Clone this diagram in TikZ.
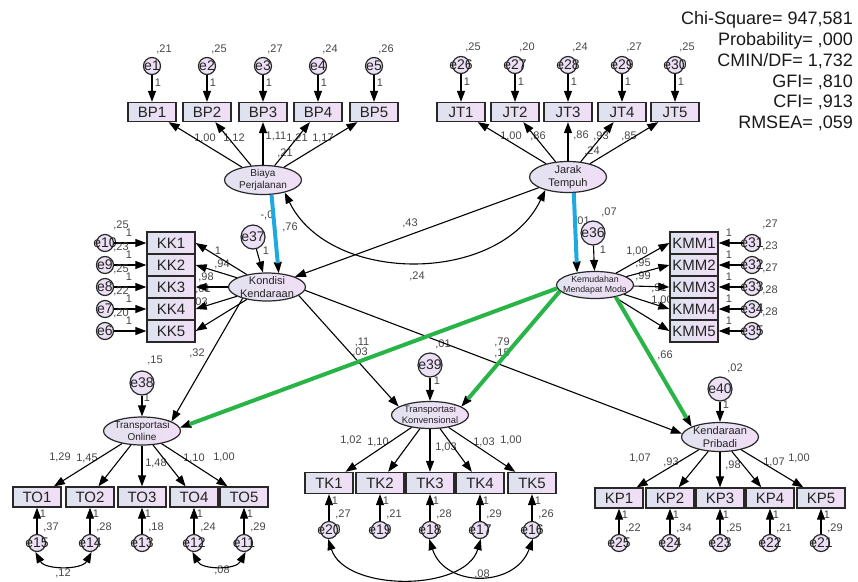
\documentclass[tikz,border=0pt]{standalone}
\usepackage{fontspec}
\setmainfont{Liberation Sans}
\usetikzlibrary{arrows.meta,shapes.geometric}
\definecolor{boxL}{RGB}{222,226,238}
\definecolor{boxR}{RGB}{241,222,246}
\definecolor{latL}{RGB}{226,226,240}
\definecolor{latR}{RGB}{240,222,245}
\definecolor{efill}{RGB}{236,224,245}
\definecolor{bord}{RGB}{40,40,40}
\definecolor{lab}{RGB}{70,70,70}
\definecolor{txt}{RGB}{35,35,35}
\definecolor{stattxt}{RGB}{25,25,25}
\definecolor{hblue}{RGB}{30,170,225}
\definecolor{hgreen}{RGB}{40,180,70}
\tikzset{
 obs/.style={rectangle, draw=bord, line width=1.3pt, left color=boxL, right color=boxR, minimum width=48pt, minimum height=20pt, inner sep=0pt, text=txt, font=\fontsize{15}{15}\selectfont},
 lat/.style={ellipse, draw=bord, line width=1.2pt, left color=latL, right color=latR, minimum width=77pt, minimum height=29pt, inner sep=0pt},
 latlab/.style={align=center, inner sep=0pt, text=txt},
 err/.style={circle, draw=bord, line width=1.2pt, fill=efill, minimum size=17pt, inner sep=0pt},
 bigerr/.style={err, minimum size=24pt},
 elab/.style={font=\fontsize{14}{14}\selectfont, inner sep=0pt, text=txt},
 arr/.style={draw=black, line width=1.1pt, -{Triangle[length=11pt,width=8pt]}},
 cov/.style={draw=black, line width=1.1pt, {Triangle[length=11pt,width=8pt]}-{Triangle[length=11pt,width=8pt]}},
 coef/.style={font=\fontsize{11}{11}\selectfont, text=lab, inner sep=0pt},
 stat/.style={font=\fontsize{18}{18}\selectfont, anchor=east, inner sep=0pt, text=stattxt},
 hiblue/.style={draw=hblue, line width=4pt, shorten >=10pt},
 higreen/.style={draw=hgreen, line width=4pt, shorten >=10pt},
}
\begin{document}
\begin{tikzpicture}[x=1pt,y=-1pt]
\useasboundingbox (0,0) rectangle (858,581);

% fit statistics
\node[stat] (s1) at (853,20) {Chi-Square= 947,581};
\node[stat] (s2) at (853,41) {Probability= ,000};
\node[stat] (s3) at (853,61) {CMIN/DF= 1,732};
\node[stat] (s4) at (853,82) {GFI= ,810};
\node[stat] (s5) at (853,102) {CFI= ,913};
\node[stat] (s6) at (853,123) {RMSEA= ,059};

% path coefficient labels
\node[coef] (c1) at (205,138) {1,00};
\node[coef] (c2) at (234,138) {1,12};
\node[coef] (c3) at (276,136) {1,11};
\node[coef] (c4) at (297,138) {1,21};
\node[coef] (c5) at (323,138) {1,17};
\node[coef] (c6) at (285,153) {,21};
\node[coef] (c7) at (511,136) {1,00};
\node[coef] (c8) at (538,136) {,86};
\node[coef] (c9) at (581,135) {,86};
\node[coef] (c10) at (601,136) {,93};
\node[coef] (c11) at (629,136) {,85};
\node[coef] (c12) at (592,151) {,24};
\node[coef] (c13) at (218,251) {1};
\node[coef] (c14) at (222,264) {,94};
\node[coef] (c15) at (206,277) {,98};
\node[coef] (c16) at (200,289) {1,01};
\node[coef] (c17) at (197,302) {1,03};
\node[coef] (c18) at (637,251) {1,00};
\node[coef] (c19) at (643,263) {,95};
\node[coef] (c20) at (643,276) {,99};
\node[coef] (c21) at (659,288) {,91};
\node[coef] (c22) at (662,300) {1,00};
\node[coef] (c23) at (267,215) {-,0};
\node[coef] (c24) at (290,227) {,76};
\node[coef] (c25) at (266,251) {1};
\node[coef] (c26) at (609,212) {,07};
\node[coef] (c27) at (582,221) {,01};
\node[coef] (c28) at (603,250) {1};
\node[coef] (c29) at (410,223) {,43};
\node[coef] (c30) at (417,276) {,24};
\node[coef] (c31) at (197,353) {,32};
\node[coef] (c32) at (362,342) {,11};
\node[coef] (c33) at (360,352) {,03};
\node[coef] (c34) at (443,344) {,01};
\node[coef] (c35) at (502,342) {,79};
\node[coef] (c36) at (502,353) {,15};
\node[coef] (c37) at (665,355) {,66};
\node[coef] (c38) at (155,360) {,15};
\node[coef] (c39) at (147,398) {1};
\node[coef] (c40) at (437,381) {1};
\node[coef] (c41) at (735,368) {,02};
\node[coef] (c42) at (726,405) {1};
\node[coef] (c43) at (60,457) {1,29};
\node[coef] (c44) at (87,458) {1,45};
\node[coef] (c45) at (156,463) {1,48};
\node[coef] (c46) at (194,458) {1,10};
\node[coef] (c47) at (224,457) {1,00};
\node[coef] (c48) at (351,440) {1,02};
\node[coef] (c49) at (378,442) {1,10};
\node[coef] (c50) at (446,447) {1,03};
\node[coef] (c51) at (484,442) {1,03};
\node[coef] (c52) at (511,440) {1,00};
\node[coef] (c53) at (640,458) {1,07};
\node[coef] (c54) at (671,462) {,93};
\node[coef] (c55) at (733,465) {,98};
\node[coef] (c56) at (774,462) {1,07};
\node[coef] (c57) at (799,458) {1,00};
\node[coef] (c58) at (63,573) {,12};
\node[coef] (c59) at (222,570) {,08};
\node[coef] (c60) at (482,574) {,08};

% latent variables
\node[lat,label={[latlab,font=\fontsize{10}{11.5}\selectfont]center:{Biaya\\Perjalanan}}] (biaya) at (263,180) {};
\node[lat,minimum height=31pt,label={[latlab,font=\fontsize{11}{13}\selectfont]center:{Jarak\\Tempuh}}] (jarak) at (568,177) {};
\node[lat,minimum height=28pt,label={[latlab,font=\fontsize{11}{13}\selectfont]center:{Kondisi\\Kendaraan}}] (kond) at (267,287) {};
\node[lat,minimum height=27pt,label={[latlab,font=\fontsize{8.8}{10.5}\selectfont]center:{Kemudahan\\Mendapat Moda}}] (kem) at (595,285) {};
\node[lat,minimum height=28pt,label={[latlab,font=\fontsize{10}{12}\selectfont]center:{Transportasi\\Online}}] (tonl) at (142,431) {};
\node[lat,minimum height=27pt,label={[latlab,font=\fontsize{9.4}{11}\selectfont]center:{Transportasi\\Konvensional}}] (tk) at (430,415) {};
\node[lat,label={[latlab,font=\fontsize{11}{13}\selectfont]center:{Kendaraan\\Pribadi}}] (kp) at (720,437) {};

% structural disturbances
\node[bigerr,label={[elab]center:e37}] (e37) at (253,237) {};
\node[bigerr,label={[elab]center:e36}] (e36) at (593,233) {};
\node[bigerr,label={[elab]center:e38}] (e38) at (142,383) {};
\node[bigerr,label={[elab]center:e39}] (e39) at (430,365) {};
\node[bigerr,label={[elab]center:e40}] (e40) at (720,389) {};

% BP block
\foreach \i/\x/\v in {1/152/{,21},2/207/{,25},3/263/{,27},4/318/{,24},5/374/{,26}}{
  \node[obs,minimum height=19pt] (bp\i) at (\x,112) {BP\i};
  \node[err,label={[elab]center:e\i}] (e\i) at (\x,66) {};
  \node[coef] (vb\i) at (\x+12,49) {\v};
  \node[coef] (ob\i) at (\x+6,83) {1};
  \draw[arr] (e\i) -- (bp\i);
  \draw[arr] (biaya) -- (bp\i);
}
% JT block
\foreach \i/\x/\e/\v in {1/461/26/{,25},2/515/27/{,20},3/568/28/{,24},4/622/29/{,27},5/675/30/{,25}}{
  \node[obs,minimum height=19pt] (jt\i) at (\x,112) {JT\i};
  \node[err,label={[elab]center:e\e}] (e\e) at (\x,65) {};
  \node[coef] (vj\i) at (\x+12,47) {\v};
  \node[coef] (oj\i) at (\x+6,82) {1};
  \draw[arr] (e\e) -- (jt\i);
  \draw[arr] (jarak) -- (jt\i);
}
% KK block
\foreach \i/\y/\e/\v in {1/243/10/{,25},2/265/9/{,23},3/287/8/{,25},4/309/7/{,22},5/331/6/{,20}}{
  \node[obs,minimum height=22pt] (kk\i) at (171,\y) {KK\i};
  \node[err,label={[elab]center:e\e}] (e\e) at (105,\y) {};
  \node[coef] (vk\i) at (121,\y-18) {\v};
  \node[coef] (ok\i) at (129,\y-10) {1};
  \draw[arr] (e\e) -- (kk\i);
  \draw[arr] (kond) -- (kk\i.east);
}
% KMM block
\foreach \i/\y/\e/\v in {1/243/31/{,27},2/265/32/{,23},3/287/33/{,27},4/309/34/{,28},5/331/35/{,28}}{
  \node[obs,minimum height=22pt] (kmm\i) at (694,\y) {KMM\i};
  \node[err,label={[elab]center:e\e}] (e\e) at (752,\y) {};
  \node[coef] (vm\i) at (770,\y-19) {\v};
  \node[coef] (om\i) at (729,\y-10) {1};
  \draw[arr] (e\e) -- (kmm\i);
  \draw[arr] (kem) -- (kmm\i.west);
}
% TO block
\foreach \i/\x/\e/\v in {1/37/15/{,37},2/90/14/{,28},3/142/13/{,18},4/194/12/{,24},5/244/11/{,29}}{
  \node[obs] (to\i) at (\x,497) {TO\i};
  \node[err,label={[elab]center:e\e}] (e\e) at (\x,543) {};
  \node[coef] (vt\i) at (\x+14,527) {\v};
  \node[coef] (ot\i) at (\x+6,514) {1};
  \draw[arr] (e\e) -- (to\i);
  \draw[arr] (tonl) -- (to\i);
}
% TK block
\foreach \i/\x/\e/\v in {1/329/20/{,27},2/380/19/{,21},3/430/18/{,28},4/480/17/{,29},5/532/16/{,26}}{
  \node[obs,minimum height=21pt] (tk\i) at (\x,483) {TK\i};
  \node[err,label={[elab]center:e\e}] (e\e) at (\x,530) {};
  \node[coef] (vk\i) at (\x+14,514) {\v};
  \node[coef] (ok\i) at (\x+6,501) {1};
  \draw[arr] (e\e) -- (tk\i);
  \draw[arr] (tk) -- (tk\i);
}
% KP block
\foreach \i/\x/\e/\v in {1/619/25/{,22},2/670/24/{,34},3/720/23/{,25},4/770/22/{,21},5/821/21/{,29}}{
  \node[obs] (kp\i) at (\x,498) {KP\i};
  \node[err,label={[elab]center:e\e}] (e\e) at (\x,543) {};
  \node[coef] (vp\i) at (\x+14,528) {\v};
  \node[coef] (op\i) at (\x+6,515) {1};
  \draw[arr] (e\e) -- (kp\i);
  \draw[arr] (kp) -- (kp\i);
}

% disturbances to latents
\draw[arr] (e37) -- (kond);
\draw[arr] (e36) -- (kem);
\draw[arr] (e38) -- (tonl);
\draw[arr] (e39) -- (tk);
\draw[arr] (e40) -- (kp);

% structural paths
\draw[cov] (biaya.-30) .. controls (330,285) and (500,285) .. (jarak.-150);
\draw[arr] (jarak) -- (kond);
\draw[arr] (kond.-155) -- (tonl.18);
\draw[arr] (kond.-15) -- (tk.165);
\draw[arr] (kond.-5) -- (kp.175);
\draw[arr] (biaya.-60) -- (kond.50);
\draw[hiblue] (biaya.-60) -- (kond.50);
\draw[arr] (jarak.-70) -- (kem.145);
\draw[hiblue] (jarak.-70) -- (kem.145);
\draw[arr] (kem.185) -- (tonl.5);
\draw[higreen] (kem.185) -- (tonl.5);
\draw[arr] (kem.190) -- (tk.15);
\draw[higreen] (kem.190) -- (tk.15);
\draw[arr] (kem.-30) -- (kp.160);
\draw[higreen] (kem.-30) -- (kp.160);

% error covariances
\draw[cov] (e15.-100) .. controls (45,570) and (82,570) .. (e14.-80);
\draw[cov] (e12.-100) .. controls (202,570) and (236,570) .. (e11.-80);
\draw[cov] (e20.-95) .. controls (345,592) and (465,592) .. (e17.-85);
\draw[cov] (e18.-95) .. controls (445,588) and (515,588) .. (e16.-85);
\end{tikzpicture}
\end{document}
